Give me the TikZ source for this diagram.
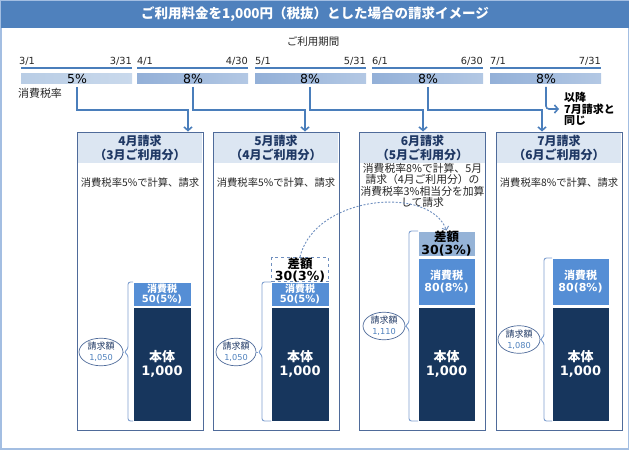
\documentclass[tikz,border=0pt]{standalone}
\usepackage{fontspec}
\setmainfont{Noto Sans CJK JP}
\newfontfamily\lat{DejaVu Sans}
\usetikzlibrary{arrows.meta,shapes.geometric,calc}
\definecolor{titleblue}{HTML}{4F81BD}
\definecolor{outerc}{HTML}{A3BEE2}
\definecolor{arrc}{HTML}{4A7EBB}
\definecolor{cardline}{HTML}{4F6B9A}
\definecolor{headfill}{HTML}{DCE6F2}
\definecolor{headtext}{HTML}{1F3864}
\definecolor{taxfill}{HTML}{558ED5}
\definecolor{bodyfill}{HTML}{17365D}
\definecolor{difffill}{HTML}{95B3D7}
\definecolor{barA}{HTML}{B9CDE5}
\definecolor{barAl}{HTML}{C9D9EC}
\definecolor{barB}{HTML}{93B0D8}
\definecolor{barBl}{HTML}{B3C8E4}
\definecolor{numblue}{HTML}{4F81BD}
\definecolor{bracec}{HTML}{7F9FCF}
\definecolor{txtdark}{HTML}{262626}
\definecolor{dashc}{HTML}{6F8FBF}
\newcommand\fs[2]{\fontsize{#1}{#2}\selectfont}
\newcommand\mybrace[5]{%
  \draw[bracel,rounded corners=2.5pt] (#2,#3) -- (#1+4,#3) -- (#1+4,#5-3) -- (#1,#5) -- (#1+4,#5+3) -- (#1+4,#4) -- (#2,#4);}
\begin{document}
\begin{tikzpicture}[x=1pt,y=-1pt,
  every node/.style={inner sep=0pt},
  arr/.style={draw=arrc, line width=1.6pt, -{Straight Barb[length=3.5pt,width=8pt]}},
  topline/.style={draw=arrc, line width=2.4pt},
  datel/.style={font=\lat\fs{9.8}{12}, text=txtdark},
  pct/.style={font=\lat\fs{12.5}{14}, text=black},
  card/.style={draw=cardline, line width=0.9pt, minimum width=126pt, minimum height=298pt},
  head/.style={fill=headfill, minimum width=124.5pt, minimum height=30pt, align=center,
    text=headtext, font=\bfseries\fs{12}{13.5}},
  desc/.style={font=\fs{10.3}{11.3}, text=txtdark, align=center},
  tax/.style={fill=taxfill, draw=white, line width=0.6pt, text=white, align=center, font=\bfseries\fs{10}{10.5}},
  taxb/.style={tax, font=\bfseries\fs{11}{12}},
  body/.style={fill=bodyfill, draw=white, line width=0.6pt, text=white, align=center, font=\bfseries\fs{13}{14}},
  diffd/.style={draw=dashc, dashed, line width=0.9pt, fill=white, align=center, text=black, font=\bfseries\fs{12.5}{12}},
  difff/.style={fill=difffill, draw=white, line width=0.6pt, align=center, text=black, font=\bfseries\fs{12.5}{13}},
  ell/.style={ellipse, draw=cardline, line width=0.7pt, fill=white, align=center, font=\fs{9}{11}},
  bracel/.style={draw=bracec, line width=0.9pt},
  dcurve/.style={draw=dashc, line width=0.9pt, dash pattern=on 2pt off 1.6pt, -{Straight Barb[length=3pt,width=7pt]}}
]
\useasboundingbox (0,0) rectangle (630,450);
% outer frame and title
\draw[outerc, line width=1.2pt] (1,1) rectangle (628.5,449);
\node[fill=titleblue, minimum width=628pt, minimum height=27pt, text=white,
  font=\bfseries\fs{13.5}{16}] (title) at (315,14.5) {ご利用料金を1,000円（税抜）とした場合の請求イメージ};
\node[font=\fs{10.5}{12}, text=txtdark] (period) at (313,42) {ご利用期間};
% periods
\node[datel, anchor=west] (d1a) at (19,61) {3/1};
\node[datel, anchor=east] (d1b) at (132,61) {3/31};
\node[datel, anchor=west] (d2a) at (137,61) {4/1};
\node[datel, anchor=east] (d2b) at (248,61) {4/30};
\node[datel, anchor=west] (d3a) at (255,61) {5/1};
\node[datel, anchor=east] (d3b) at (366,61) {5/31};
\node[datel, anchor=west] (d4a) at (372,61) {6/1};
\node[datel, anchor=east] (d4b) at (483,61) {6/30};
\node[datel, anchor=west] (d5a) at (490,61) {7/1};
\node[datel, anchor=east] (d5b) at (601,61) {7/31};
\draw[topline] (21,68) -- (132,68);
\draw[topline] (137,68) -- (248,68);
\draw[topline] (255,68) -- (366,68);
\draw[topline] (372,68) -- (483,68);
\draw[topline] (490,68) -- (601,68);
\fill[left color=barA, right color=barAl] (21,73) rectangle (132,83);
\fill[left color=barB, right color=barBl] (137,73) rectangle (248,83);
\fill[left color=barB, right color=barBl] (255,73) rectangle (366,83);
\fill[left color=barB, right color=barBl] (372,73) rectangle (483,83);
\fill[left color=barB, right color=barBl] (490,73) rectangle (601,83);
\node[pct] (p1) at (77,79) {5\%};
\node[pct] (p2) at (193,79) {8\%};
\node[pct] (p3) at (310,79) {8\%};
\node[pct] (p4) at (428,79) {8\%};
\node[pct] (p5) at (546,79) {8\%};
\node[font=\fs{11}{13}, text=txtdark] (rate) at (40,93) {消費税率};
% cards
\node[head] (hd1) at (140,148) {4月請求\\（3月ご利用分）};
\node[head] (hd2) at (276,148) {5月請求\\（4月ご利用分）};
\node[head] (hd3) at (422.5,148) {6月請求\\（5月ご利用分）};
\node[head] (hd4) at (559,148) {7月請求\\（6月ご利用分）};
\node[card] (c1) at (140,281) {};
\node[card] (c2) at (276,281) {};
\node[card] (c3) at (422.5,281) {};
\node[card] (c4) at (559,281) {};
\node[desc] (ds1) at (140,183) {消費税率5\%で計算、請求};
\node[desc] (ds2) at (276,183) {消費税率5\%で計算、請求};
\node[desc, font=\fs{10.8}{11.3}] (ds3) at (422.5,185.5) {消費税率8\%で計算、5月\\請求（4月ご利用分）の\\消費税率3\%相当分を加算\\して請求};
\node[desc] (ds4) at (559,183) {消費税率8\%で計算、請求};
% arrows from periods to cards
\coordinate (k1) at (188,110); \coordinate (t1) at (188,131.5);
\coordinate (k2) at (305,110); \coordinate (t2) at (305,131.5);
\coordinate (k3) at (423,110); \coordinate (t3) at (423,131.5);
\coordinate (k4) at (542,110); \coordinate (t4) at (542,131.5);
\draw[arr] (p1.south) ++(0,3) |- (k1) -- (t1);
\draw[arr] (p2.south) ++(0,3) |- (k2) -- (t2);
\draw[arr] (p3.south) ++(0,3) |- (k3) -- (t3);
\draw[arr] (p4.south) ++(0,3) |- (k4) -- (t4);
\node[anchor=west, align=left, text=black, font=\bfseries\fs{11}{11.7}] (nx) at (564,109) {以降\\7月請求と\\同じ};
\draw[arr, rounded corners=3pt, shorten >=5pt] (p5.south) ++(0,3) |- (nx.west);
% card 1 stack
\node[tax, minimum width=58pt, minimum height=24pt] (tx1) at (162,294) {消費税\\{\lat 50(5\%)}};
\node[body, minimum width=58pt, minimum height=114pt] (bd1) at (162,364) {本体\\{\lat 1,000}};
% card 2 stack
\node[diffd, minimum width=57pt, minimum height=22pt] (df2) at (300,269.5) {差額\\{\lat 30(3\%)}};
\node[tax, minimum width=58pt, minimum height=24pt] (tx2) at (300,294) {消費税\\{\lat 50(5\%)}};
\node[body, minimum width=58pt, minimum height=114pt] (bd2) at (300,364) {本体\\{\lat 1,000}};
% card 3 stack
\node[difff, minimum width=57pt, minimum height=25pt] (df3) at (446.5,243.5) {差額\\{\lat 30(3\%)}};
\node[taxb, minimum width=57pt, minimum height=47pt] (tx3) at (446.5,281.5) {消費税\\{\lat 80(8\%)}};
\node[body, minimum width=57pt, minimum height=114pt] (bd3) at (446.5,364) {本体\\{\lat 1,000}};
% card 4 stack
\node[taxb, minimum width=57pt, minimum height=47pt] (tx4) at (580.5,281.5) {消費税\\{\lat 80(8\%)}};
\node[body, minimum width=57pt, minimum height=114pt] (bd4) at (580.5,364) {本体\\{\lat 1,000}};
% braces
\mybrace{124}{133}{282}{421}{352}
\mybrace{258}{271}{282}{421}{352}
\mybrace{405}{418}{231}{421}{326}
\mybrace{540}{552}{258}{421}{339.5}
\coordinate (bt1) at (124,352);
\coordinate (bt2) at (258,352);
\coordinate (bt3) at (405,326);
\coordinate (bt4) at (540,339.5);
% total ellipses
\node[ell, minimum width=44pt, minimum height=25pt] (e1) at (101,352) {\textcolor{headtext}{請求額}\\{\lat\fs{8.2}{10}\color{numblue}1,050}};
\node[ell, minimum width=40pt, minimum height=26pt] (e2) at (236,352) {\textcolor{headtext}{請求額}\\{\lat\fs{8.2}{10}\color{numblue}1,050}};
\node[ell, minimum width=42pt, minimum height=23pt] (e3) at (384,326) {\textcolor{headtext}{請求額}\\{\lat\fs{8.2}{10}\color{numblue}1,110}};
\node[ell, minimum width=42pt, minimum height=26pt] (e4) at (519,339.5) {\textcolor{headtext}{請求額}\\{\lat\fs{8.2}{10}\color{numblue}1,080}};
\draw[bracel] (e1.east) -- (bt1);
\draw[bracel] (e2.east) -- (bt2);
\draw[bracel] (e3.east) -- (bt3);
\draw[bracel] (e4.east) -- (bt4);
% dashed transfer curve
\draw[dcurve] (df2.north) .. controls (315,195) and (430,185) .. (df3.north);
\end{tikzpicture}
\end{document}
